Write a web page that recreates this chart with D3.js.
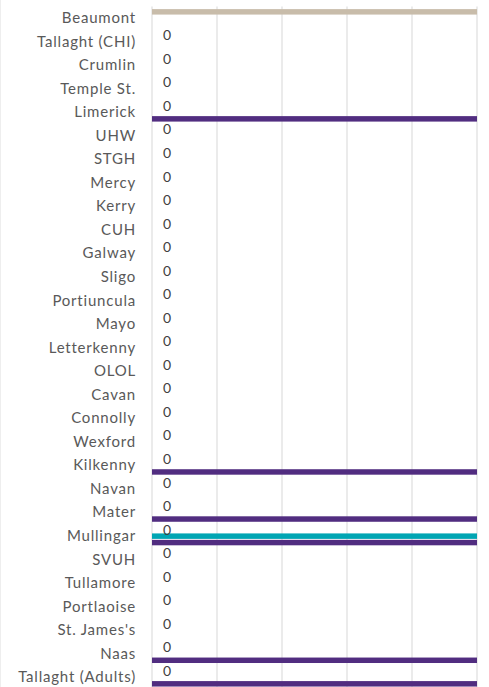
<!DOCTYPE html>
<html>
<head>
<meta charset="utf-8">
<script src="https://cdn.jsdelivr.net/npm/d3@7"></script>
<style>
  body { margin: 0; background: #fff; }
  .cat text { font-family: Lato, "Open Sans", sans-serif; font-size: 15px; letter-spacing: 0.8px; fill: #595959; }
  .lbl { font-family: Lato, "Open Sans", sans-serif; font-size: 14px; fill: #404040; }
</style>
</head>
<body>
<div class="chart"></div>
<script>
// data
var hospitals = ["Beaumont", "Tallaght (CHI)", "Crumlin", "Temple St.", "Limerick", "UHW", "STGH",
  "Mercy", "Kerry", "CUH", "Galway", "Sligo", "Portiuncula", "Mayo", "Letterkenny", "OLOL",
  "Cavan", "Connolly", "Wexford", "Kilkenny", "Navan", "Mater", "Mullingar", "SVUH",
  "Tullamore", "Portlaoise", "St. James's", "Naas", "Tallaght (Adults)"];

// three series per hospital (top, middle, bottom slot); large values run past the axis
var seriesA = [9, 0, 0, 0, 0, 0, 0, 0, 0, 0, 0, 0, 0, 0, 0, 0, 0, 0, 0, 0, 0, 0, 0, 0, 0, 0, 0, 0, 0];
var seriesB = [0, 0, 0, 0, 0, 0, 0, 0, 0, 0, 0, 0, 0, 0, 0, 0, 0, 0, 0, 0, 0, 0, 9, 0, 0, 0, 0, 0, 0];
var seriesC = [0, 0, 0, 0, 9, 0, 0, 0, 0, 0, 0, 0, 0, 0, 0, 0, 0, 0, 0, 9, 0, 9, 9, 0, 0, 0, 0, 9, 9];
var seriesNames = ["A", "B", "C"];
var seriesColors = ["#c8bcaa", "#00a5b3", "#512d80"];
var xTicks = [0, 1, 2, 3, 4, 5];

var svgWidth = 489;
var svgHeight = 687;
var margin = { top: 6.5, left: 152, right: 12 };
var step = 23.54;

var svg = d3.select(".chart").append("svg")
  .attr("width", svgWidth)
  .attr("height", svgHeight);

// faint chart border on the left
svg.append("line")
  .attr("x1", 0.5).attr("x2", 0.5)
  .attr("y1", 0).attr("y2", svgHeight)
  .attr("stroke", "#eeeeee");

var x = d3.scaleLinear()
  .domain([0, 5])
  .range([margin.left, svgWidth - margin.right]);

var y = d3.scaleBand()
  .domain(hospitals)
  .range([margin.top, margin.top + step * hospitals.length]);

var ySub = d3.scaleBand()
  .domain(seriesNames)
  .range([y.bandwidth() * 0.07, y.bandwidth() * 0.93])
  .padding(0.15);

var plotBottom = margin.top + step * hospitals.length;

svg.append("defs").append("clipPath")
  .attr("id", "plot")
  .append("rect")
  .attr("x", margin.left)
  .attr("y", 0)
  .attr("width", x(5) - margin.left)
  .attr("height", svgHeight);

// gridlines
svg.append("g")
  .selectAll("line")
  .data(xTicks)
  .enter()
  .append("line")
  .attr("x1", d => x(d)).attr("x2", d => x(d))
  .attr("y1", margin.top).attr("y2", plotBottom)
  .attr("stroke", "#e3e3e3")
  .attr("stroke-width", 1.4);

// category axis
var leftAxis = d3.axisLeft(y).tickSize(0).tickPadding(16);
svg.append("g")
  .attr("class", "cat")
  .attr("transform", `translate(${margin.left}, 0)`)
  .call(leftAxis)
  .call(g => g.select(".domain").remove());

// bars
var rows = hospitals.map((h, i) => ({
  name: h,
  values: [seriesA[i], seriesB[i], seriesC[i]]
}));

var barGroup = svg.append("g").attr("clip-path", "url(#plot)");

rows.forEach(function (row) {
  barGroup.selectAll(null)
    .data(row.values.map((v, j) => ({ s: seriesNames[j], v: v, c: seriesColors[j] })))
    .enter()
    .append("rect")
    .attr("x", x(0))
    .attr("y", d => y(row.name) + ySub(d.s))
    .attr("width", d => x(Math.min(d.v, 5)) - x(0))
    .attr("height", ySub.bandwidth())
    .attr("fill", d => d.c);
});

// data labels for the top series (labels past the axis end are off the chart)
svg.append("g").selectAll(".lbl")
  .data(rows.filter(d => d.values[0] <= 5))
  .enter()
  .append("text")
  .attr("class", "lbl")
  .attr("x", d => x(d.values[0]) + 11)
  .attr("y", d => y(d.name) + ySub("A") + ySub.bandwidth() / 2)
  .attr("dy", "0.35em")
  .text(d => d.values[0]);
</script>
</body>
</html>
